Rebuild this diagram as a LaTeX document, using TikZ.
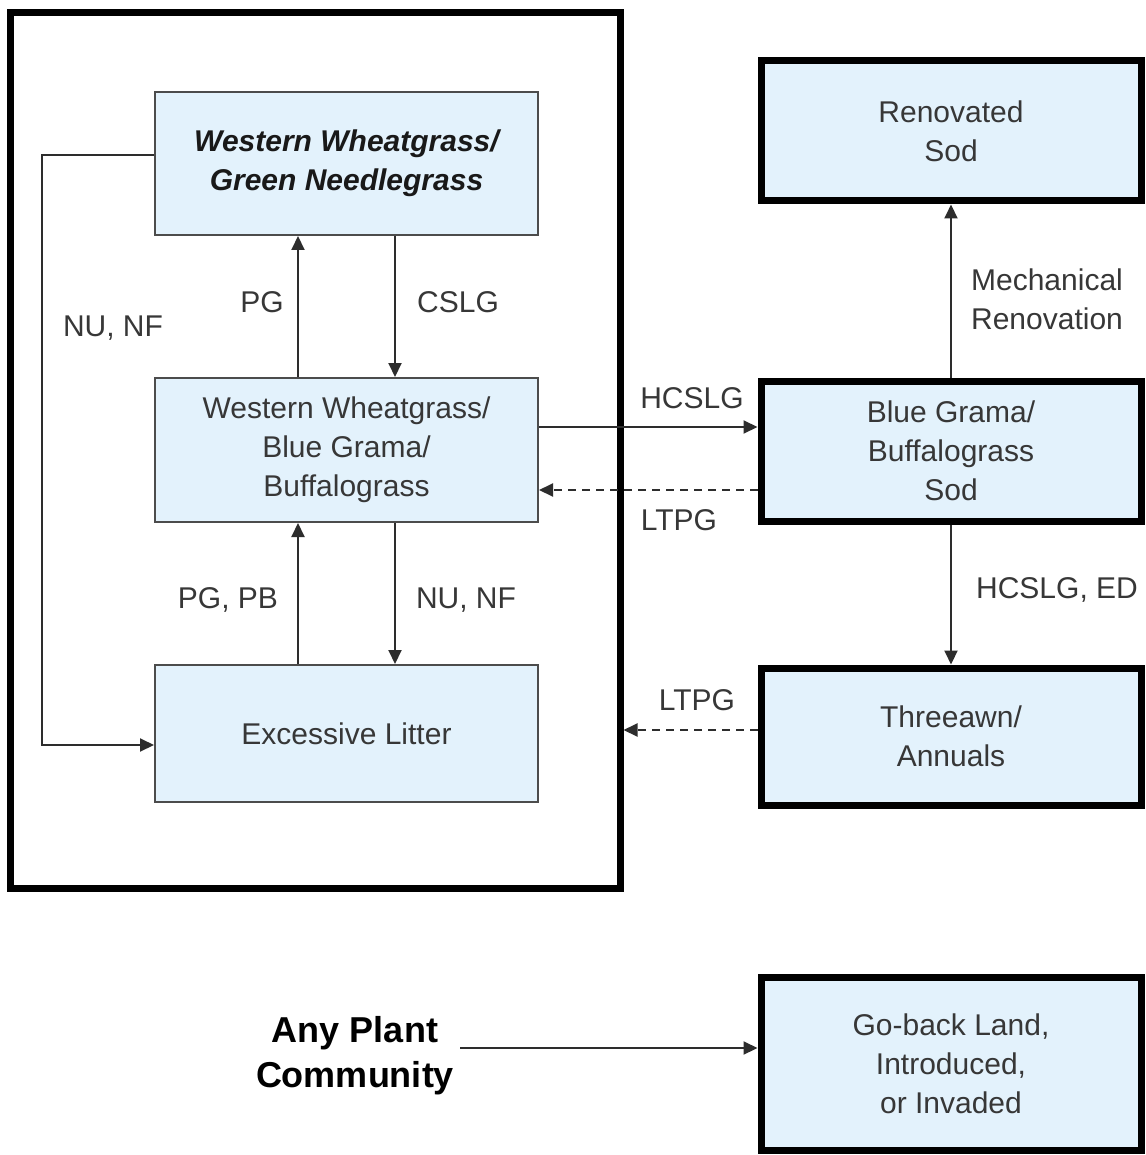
\documentclass[tikz,border=0pt]{standalone}
\usepackage{fontspec}
\setmainfont{Liberation Sans}
\usetikzlibrary{arrows.meta,calc}
\definecolor{boxfill}{RGB}{227,242,252}
\definecolor{txt}{RGB}{55,55,55}
\definecolor{ln}{RGB}{45,45,45}
\begin{document}
\begin{tikzpicture}[x=1pt,y=-1pt,
  thinbox/.style={draw=ln!85, line width=2pt, fill=boxfill, rectangle, align=center,
     text=txt, font=\fontsize{30}{39}\selectfont, inner sep=0pt},
  thickbox/.style={draw=black, line width=7pt, fill=boxfill, rectangle, align=center,
     text=txt, font=\fontsize{30}{39}\selectfont, inner sep=0pt},
  lbl/.style={text=txt, font=\fontsize{30}{39}\selectfont, align=left, inner sep=0pt},
  arr/.style={draw=ln, line width=2pt, -{Triangle[length=14pt,width=13pt]}},
  dashline/.style={dash pattern=on 8pt off 6pt}]
\useasboundingbox (0,0) rectangle (1145,1155);
\fill[white] (0,0) rectangle (1145,1155);

% outer frame
\node[draw=black, line width=7pt, minimum width=610pt, minimum height=875pt, inner sep=0pt] (outer) at (315,450.5) {};

% left boxes
\node[thinbox, minimum width=383pt, minimum height=143pt, text=black!90] (wwgn) at (346.5,163.5)
  {\bfseries\itshape Western Wheatgrass/\\\bfseries\itshape Green Needlegrass};
\node[thinbox, minimum width=383pt, minimum height=144pt] (wwbg) at (346.5,450)
  {Western Wheatgrass/\\Blue Grama/\\Buffalograss};
\node[thinbox, minimum width=383pt, minimum height=137pt] (el) at (346.5,733.5)
  {Excessive Litter};

% right boxes
\node[thickbox, minimum width=380pt, minimum height=140pt] (rs) at (951,131)
  {Renovated\\Sod};
\node[thickbox, minimum width=380pt, minimum height=140pt] (bgb) at (951,451)
  {Blue Grama/\\Buffalograss\\Sod};
\node[thickbox, minimum width=380pt, minimum height=137pt] (ta) at (951,736.5)
  {Threeawn/\\Annuals};
\node[thickbox, minimum width=380pt, minimum height=173pt] (gb) at (951,1063.5)
  {Go-back Land,\\Introduced,\\or Invaded};

% Any plant community
\node[font=\fontsize{36}{45}\selectfont\bfseries, align=center, inner sep=0pt] (apc) at (355,1056)
  {Any Plant\\Community};

% connectors within the outer frame
\draw[arr] ($(wwgn.south)+(48.5,0)$) -- ($(wwbg.north)+(48.5,0)$);
\draw[arr] ($(wwbg.north)+(-48.5,0)$) -- ($(wwgn.south)+(-48.5,0)$);
\draw[arr] ($(wwbg.south)+(48.5,0)$) -- ($(el.north)+(48.5,0)$);
\draw[arr] ($(el.north)+(-48.5,0)$) -- ($(wwbg.south)+(-48.5,0)$);
\draw[arr] ($(wwgn.west)+(0,-8.5)$) -- ++(-112,0) |- ($(el.west)+(0,11.5)$);

% connectors to the right boxes
\coordinate (h1) at ($(wwbg.east)+(0,-23)$);
\draw[arr] (h1) -- (h1 -| bgb.west);
\coordinate (l1) at ($(wwbg.east)+(0,40)$);
\draw[arr, dashline] (l1 -| bgb.west) -- (l1);
\draw[arr] (bgb.north) -- (rs.south);
\draw[arr] (bgb.south) -- (ta.north);
\coordinate (l2) at ($(ta.west)+(0,-6.5)$);
\draw[arr, dashline] (l2) -- (l2 -| outer.east);
\coordinate (a1) at ($(gb.west)+(0,-15.5)$);
\draw[arr] (a1 -| 460,0) -- (a1);

% labels
\node[lbl] (lpg) at (262,302) {PG};
\node[lbl] (lcslg) at (458,302) {CSLG};
\node[lbl] (lnunf1) at (113,328) {NU, NF};
\node[lbl] (lpgpb) at (228,600) {PG, PB};
\node[lbl] (lnunf2) at (466,600) {NU, NF};
\node[lbl] (lhcslg) at (692,398) {HCSLG};
\node[lbl] (lltpg1) at (679,520) {LTPG};
\node[lbl, align=center] (lmech) at (1047,299) {Mechanical\\Renovation};
\node[lbl] (lhed) at (1057,590) {HCSLG, ED};
\node[lbl] (lltpg2) at (697,700) {LTPG};
\end{tikzpicture}
\end{document}
